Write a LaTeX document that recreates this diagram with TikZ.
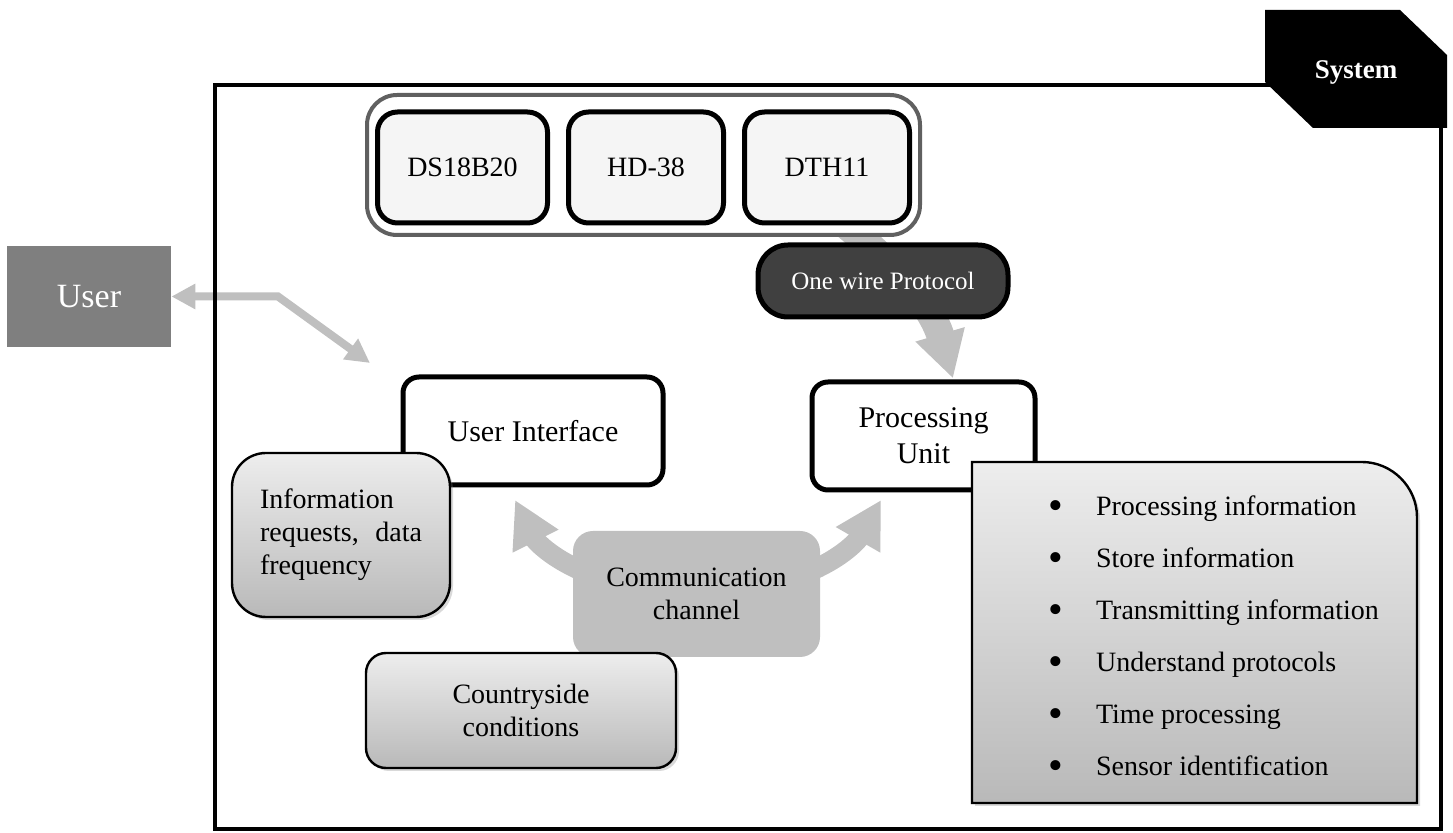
\documentclass[tikz,border=0pt]{standalone}
\usepackage{fontspec}
\setmainfont{Liberation Serif}
\usetikzlibrary{arrows.meta,shadows,calc}
\definecolor{arrowgray}{HTML}{BFBFBF}
\definecolor{usergray}{HTML}{7F7F7F}
\definecolor{pillgray}{HTML}{404040}
\definecolor{groupgray}{HTML}{606060}
\definecolor{sensorfill}{HTML}{F5F5F5}
\newcommand{\itembullet}{\makebox[24pt][l]{\raisebox{-2pt}{\fontsize{21}{21}\selectfont\textbullet}}}
\begin{document}
\begin{tikzpicture}[x=0.5pt,y=-0.5pt,
    box/.style={draw=black,line width=2.5pt,rounded corners=8pt,fill=white,align=center,font=\fontsize{15}{18}\selectfont},
    sensor/.style={draw=black,line width=2.5pt,rounded corners=10pt,fill=sensorfill,minimum height=55.5pt,font=\fontsize{14}{16.5}\selectfont},
    grad/.style={draw=black,line width=1.2pt,top color=gray!14,bottom color=gray!55,drop shadow={opacity=0.3,shadow xshift=1.5pt,shadow yshift=-1.5pt},font=\fontsize{14}{16.5}\selectfont},
    flow/.style={arrowgray,line width=#1,-{Triangle[length=23pt,width=24pt]}},
    flow/.default=10pt]
  \useasboundingbox (0,0) rectangle (1453,833);
  \node[fill=usergray,text=white,minimum width=82pt,minimum height=50.5pt,font=\fontsize{17}{20}\selectfont] (U) at (89,296.5) {User};
  \coordinate (BEND) at (278,296.5);
  \coordinate (UITIP) at (370,363);
  \draw[arrowgray,line width=4pt,{Triangle[length=12pt,width=12pt]}-{Triangle[length=12pt,width=12pt]}] (U.east) -- (BEND) -- (UITIP);
  \draw[line width=2pt] (215,85) rectangle (1441,829);
  \node[box,minimum width=111.5pt,minimum height=54pt] (PU) at (923.5,436) {Processing\\Unit};
  \coordinate (SRC) at (815,200);
  \draw[flow=14pt] (SRC) .. controls (885,255) and (930,300) .. ($(PU.north)+(29.5,-1)$);
  \node[draw=groupgray,line width=2pt,rounded corners=15pt,fill=white,minimum width=276.5pt,minimum height=70pt] (G) at (643.5,165) {};
  \matrix[column sep=8pt,ampersand replacement=\&] (M) at (643.5,167.5)
  {
    \node[sensor,minimum width=85pt] (DS) {DS18B20}; \& \node[sensor,minimum width=77.5pt] (HD) {HD-38}; \& \node[sensor,minimum width=82.5pt] (DTH) {DTH11};\\
  };
  \node[draw=black,line width=2.5pt,fill=pillgray,text=white,rounded corners=15pt,minimum width=125pt,minimum height=36pt,font=\fontsize{12.5}{15}\selectfont] (OW) at (883,281) {One wire Protocol};
  \node[box,minimum width=130pt,minimum height=54pt] (UI) at (533,431) {User Interface};
  \coordinate (LTIP) at (515,500);
  \coordinate (RTIP) at (881,500);
  \node[minimum width=123.5pt,minimum height=63pt] (CH) at (696.5,594) {};
  \draw[flow] (CH.center) .. controls (575,590) and (535,540) .. (LTIP);
  \draw[flow] (CH.center) .. controls (818,590) and (858,540) .. (RTIP);
  \node[fill=arrowgray,rounded corners=10pt,minimum width=123.5pt,minimum height=63pt,align=center,font=\fontsize{14}{16.5}\selectfont] at (CH) {Communication\\channel};
  \node[grad,rounded corners=17pt,minimum width=109pt,minimum height=82pt,text width=81pt,align=left] (INF) at (341,535) {Information\\requests,\hfill data\\frequency};
  \node[grad,rounded corners=10pt,minimum width=155pt,minimum height=57.5pt,align=center] (CS) at (521,710.5) {Countryside\\conditions};
  \path[grad] (972,803) -- (972,462) -- (1362,462) .. controls (1392,462) and (1417,487) .. (1417,517) -- (1417,803) -- cycle;
  \node[anchor=west,align=left,font=\fontsize{14}{26}\selectfont] (TASKS) at (1041,638)
  {\itembullet Processing information\\
   \itembullet Store information\\
   \itembullet Transmitting information\\
   \itembullet Understand protocols\\
   \itembullet Time processing\\
   \itembullet Sensor identification};
  \fill (1265,10) -- (1400,10) -- (1447,55) -- (1447,128) -- (1313,128) -- (1265,82) -- cycle;
  \node[text=white,font=\bfseries\fontsize{13.5}{16}\selectfont] (SYS) at (1356,72) {System};
\end{tikzpicture}
\end{document}
